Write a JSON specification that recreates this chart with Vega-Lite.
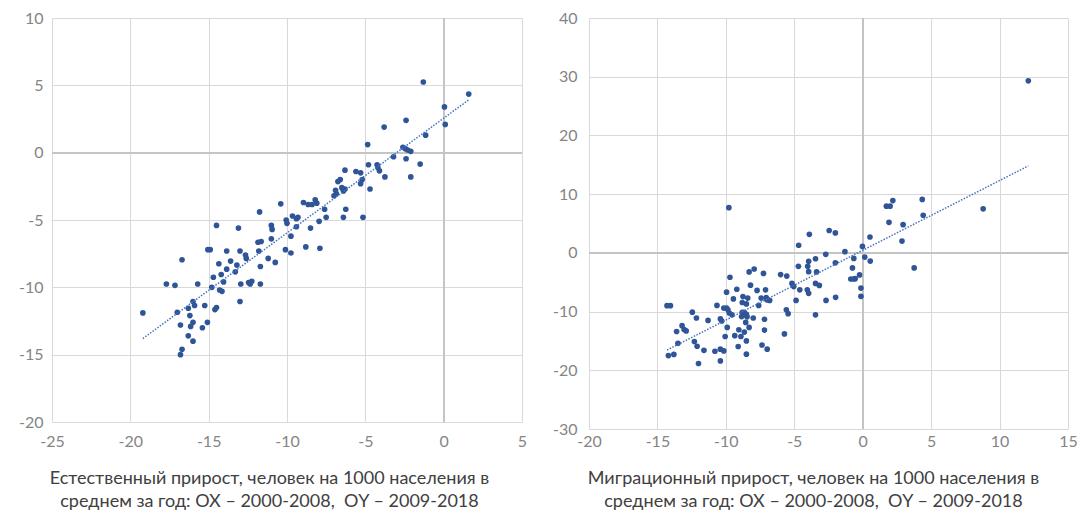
{
  "$schema": "https://vega.github.io/schema/vega-lite/v6.json",
  "padding": {"left": 18, "top": 10, "right": 0, "bottom": 0},
  "background": "white",
  "config": {
    "font": "Lato",
    "view": {"stroke": null},
    "axis": {
      "grid": true,
      "gridColor": "#d9d9d9",
      "gridWidth": 1,
      "domain": false,
      "ticks": false,
      "labelFlush": false,
      "labelOverlap": false,
      "labelExpr": "'' + datum.value",
      "labelFont": "Lato",
      "labelFontSize": 16,
      "labelColor": "#858585",
      "titleFont": "Lato",
      "titleFontSize": 18,
      "titleFontWeight": "normal",
      "titleColor": "#404040",
      "titleLineHeight": 23
    }
  },
  "spacing": 25,
  "datasets": {
    "natural": [
      {"x": -19.2, "y": -11.9}, {"x": -17.7, "y": -9.75}, {"x": -17.15, "y": -9.85}, {"x": -16.7, "y": -7.95},
      {"x": -17.0, "y": -11.85}, {"x": -16.8, "y": -12.8}, {"x": -16.7, "y": -14.6}, {"x": -16.8, "y": -15.0},
      {"x": -16.3, "y": -11.55}, {"x": -16.2, "y": -12.1}, {"x": -16.15, "y": -12.9}, {"x": -16.0, "y": -12.6},
      {"x": -16.3, "y": -13.6}, {"x": -16.0, "y": -14.0}, {"x": -16.0, "y": -11.05}, {"x": -15.9, "y": -11.35},
      {"x": -15.7, "y": -9.75}, {"x": -15.4, "y": -13.0}, {"x": -15.25, "y": -11.35}, {"x": -15.08, "y": -12.6},
      {"x": -14.8, "y": -10.0}, {"x": -14.7, "y": -9.25}, {"x": -14.5, "y": -5.4}, {"x": -14.6, "y": -11.65},
      {"x": -14.5, "y": -11.5}, {"x": -14.3, "y": -10.2}, {"x": -14.15, "y": -10.3}, {"x": -14.35, "y": -8.25},
      {"x": -14.2, "y": -9.05}, {"x": -14.05, "y": -9.6}, {"x": -13.85, "y": -8.65}, {"x": -13.85, "y": -7.3},
      {"x": -13.6, "y": -8.05}, {"x": -13.3, "y": -8.85}, {"x": -13.2, "y": -8.35}, {"x": -13.1, "y": -5.6},
      {"x": -13.0, "y": -11.05}, {"x": -12.95, "y": -9.75}, {"x": -13.0, "y": -7.3}, {"x": -12.65, "y": -7.6},
      {"x": -12.6, "y": -7.85}, {"x": -12.45, "y": -9.65}, {"x": -12.25, "y": -9.55}, {"x": -12.35, "y": -9.75},
      {"x": -15.05, "y": -7.2}, {"x": -14.9, "y": -7.2}, {"x": -11.75, "y": -4.4}, {"x": -11.85, "y": -6.65},
      {"x": -11.65, "y": -6.6}, {"x": -11.8, "y": -7.3}, {"x": -11.7, "y": -8.45}, {"x": -11.7, "y": -9.75},
      {"x": -11.2, "y": -7.85}, {"x": -10.75, "y": -8.15}, {"x": -11.0, "y": -5.4}, {"x": -10.95, "y": -5.7},
      {"x": -11.0, "y": -6.4}, {"x": -10.4, "y": -3.8}, {"x": -10.1, "y": -7.2}, {"x": -9.75, "y": -7.45},
      {"x": -10.05, "y": -5.0}, {"x": -10.0, "y": -5.25}, {"x": -9.75, "y": -6.2}, {"x": -9.65, "y": -4.7},
      {"x": -9.3, "y": -4.8}, {"x": -9.4, "y": -4.9}, {"x": -9.4, "y": -5.5}, {"x": -8.8, "y": -7.0},
      {"x": -7.9, "y": -7.1}, {"x": -8.5, "y": -5.6}, {"x": -8.95, "y": -3.7}, {"x": -8.65, "y": -3.85},
      {"x": -8.4, "y": -3.85}, {"x": -8.1, "y": -3.75}, {"x": -8.2, "y": -3.5}, {"x": -7.95, "y": -5.1},
      {"x": -7.6, "y": -4.2}, {"x": -7.5, "y": -4.8}, {"x": -7.0, "y": -3.2}, {"x": -6.85, "y": -3.05},
      {"x": -6.9, "y": -2.8}, {"x": -6.5, "y": -2.6}, {"x": -6.4, "y": -2.85}, {"x": -6.3, "y": -2.7},
      {"x": -6.75, "y": -2.15}, {"x": -6.6, "y": -2.0}, {"x": -6.25, "y": -4.2}, {"x": -6.4, "y": -4.8},
      {"x": -5.15, "y": -4.8}, {"x": -6.3, "y": -1.3}, {"x": -5.6, "y": -1.4}, {"x": -5.3, "y": -1.5},
      {"x": -5.2, "y": -2.0}, {"x": -5.3, "y": -2.3}, {"x": -4.7, "y": -2.7}, {"x": -4.8, "y": -0.9},
      {"x": -4.25, "y": -0.9}, {"x": -4.2, "y": -1.1}, {"x": -4.1, "y": -1.35}, {"x": -4.85, "y": 0.6},
      {"x": -3.75, "y": -1.8}, {"x": -3.8, "y": 1.9}, {"x": -3.2, "y": -0.3}, {"x": -2.6, "y": 0.4},
      {"x": -2.45, "y": 0.3}, {"x": -2.3, "y": 0.2}, {"x": -2.1, "y": 0.1}, {"x": -2.4, "y": -0.45},
      {"x": -1.5, "y": -0.85}, {"x": -2.1, "y": -1.8}, {"x": -2.4, "y": 2.4}, {"x": -1.3, "y": 5.25},
      {"x": -1.15, "y": 1.3}, {"x": 0.05, "y": 3.4}, {"x": 0.1, "y": 2.1}, {"x": 1.6, "y": 4.35}
    ],
    "migration": [
      {"x": -14.3, "y": -9.0}, {"x": -14.05, "y": -9.0}, {"x": -14.2, "y": -17.5}, {"x": -13.8, "y": -17.3},
      {"x": -13.6, "y": -13.4}, {"x": -13.2, "y": -12.4}, {"x": -13.05, "y": -13.05}, {"x": -12.9, "y": -13.3},
      {"x": -13.5, "y": -15.4}, {"x": -12.45, "y": -10.1}, {"x": -12.15, "y": -11.1}, {"x": -12.3, "y": -15.1},
      {"x": -12.1, "y": -15.9}, {"x": -11.6, "y": -16.6}, {"x": -12.0, "y": -18.85}, {"x": -11.3, "y": -11.5},
      {"x": -10.8, "y": -16.75}, {"x": -10.65, "y": -8.95}, {"x": -10.4, "y": -16.4}, {"x": -10.4, "y": -18.4},
      {"x": -10.15, "y": -16.7}, {"x": -10.4, "y": -11.25}, {"x": -10.3, "y": -11.6}, {"x": -10.15, "y": -9.4},
      {"x": -9.95, "y": -9.4}, {"x": -9.85, "y": -9.7}, {"x": -9.95, "y": -6.7}, {"x": -9.7, "y": -4.15},
      {"x": -9.75, "y": -10.25}, {"x": -9.55, "y": -10.55}, {"x": -10.05, "y": -14.25}, {"x": -9.9, "y": -12.7},
      {"x": -9.45, "y": -7.85}, {"x": -9.2, "y": -6.2}, {"x": -9.05, "y": -13.1}, {"x": -8.8, "y": -8.45},
      {"x": -8.8, "y": -10.15}, {"x": -8.65, "y": -10.15}, {"x": -8.85, "y": -10.85}, {"x": -8.72, "y": -10.6},
      {"x": -9.35, "y": -14.1}, {"x": -9.1, "y": -15.95}, {"x": -8.9, "y": -14.25}, {"x": -8.65, "y": -13.5},
      {"x": -8.55, "y": -11.85}, {"x": -8.5, "y": -10.45}, {"x": -8.45, "y": -10.9}, {"x": -8.4, "y": -7.7},
      {"x": -8.5, "y": -8.7}, {"x": -8.5, "y": -15.0}, {"x": -8.3, "y": -12.7}, {"x": -8.5, "y": -17.25},
      {"x": -8.75, "y": -7.45}, {"x": -8.3, "y": -3.25}, {"x": -7.93, "y": -2.75}, {"x": -8.2, "y": -5.5},
      {"x": -7.72, "y": -6.4}, {"x": -8.0, "y": -11.1}, {"x": -7.6, "y": -8.95}, {"x": -7.42, "y": -7.7},
      {"x": -7.05, "y": -7.6}, {"x": -7.25, "y": -3.5}, {"x": -7.0, "y": -8.0}, {"x": -6.8, "y": -8.1},
      {"x": -7.18, "y": -11.3}, {"x": -7.18, "y": -13.15}, {"x": -7.36, "y": -15.7}, {"x": -6.98, "y": -16.4},
      {"x": -7.1, "y": -6.3}, {"x": -6.0, "y": -3.7}, {"x": -5.55, "y": -3.95}, {"x": -5.58, "y": -9.7},
      {"x": -5.45, "y": -10.35}, {"x": -5.72, "y": -13.8}, {"x": -5.17, "y": -5.2}, {"x": -5.04, "y": -5.75},
      {"x": -4.87, "y": -8.1}, {"x": -4.68, "y": 1.3}, {"x": -4.7, "y": -2.3}, {"x": -4.6, "y": -6.3},
      {"x": -3.95, "y": -1.43}, {"x": -4.02, "y": -2.3}, {"x": -3.95, "y": -3.2}, {"x": -3.37, "y": -3.25},
      {"x": -3.45, "y": -1.0}, {"x": -3.9, "y": 3.15}, {"x": -2.45, "y": 3.8}, {"x": -2.0, "y": 3.4},
      {"x": -2.7, "y": -0.25}, {"x": -2.0, "y": -1.7}, {"x": -1.3, "y": 0.2}, {"x": -0.65, "y": -0.95},
      {"x": 0.15, "y": -0.72}, {"x": 0.55, "y": -1.4}, {"x": -0.75, "y": -2.57}, {"x": -0.23, "y": -3.75},
      {"x": -0.87, "y": -4.45}, {"x": -0.65, "y": -4.45}, {"x": -0.55, "y": -4.4}, {"x": -0.13, "y": -6.0},
      {"x": -0.13, "y": -7.4}, {"x": -2.68, "y": -8.1}, {"x": -1.98, "y": -7.58}, {"x": -3.45, "y": -5.2},
      {"x": -3.17, "y": -5.55}, {"x": -4.05, "y": -6.3}, {"x": -3.95, "y": -6.9}, {"x": -3.45, "y": -10.55},
      {"x": -0.02, "y": 1.1}, {"x": 0.53, "y": 2.7}, {"x": -9.78, "y": 7.7}, {"x": 1.73, "y": 7.95},
      {"x": 2.0, "y": 7.95}, {"x": 2.2, "y": 8.9}, {"x": 1.92, "y": 5.2}, {"x": 2.95, "y": 4.8},
      {"x": 2.87, "y": 2.0}, {"x": 4.35, "y": 9.1}, {"x": 4.42, "y": 6.4}, {"x": 3.76, "y": -2.56},
      {"x": 8.8, "y": 7.5}, {"x": 12.1, "y": 29.3}
    ]
  },
  "hconcat": [
    {
      "width": 470,
      "height": 404,
      "data": {"name": "natural"},
      "layer": [
        {
          "mark": {"type": "rule", "color": "#c4c4c4", "strokeWidth": 1},
          "encoding": {"y": {"datum": 0, "type": "quantitative"}}
        },
        {
          "mark": {"type": "rule", "color": "#c4c4c4", "strokeWidth": 1},
          "encoding": {"x": {"datum": 0, "type": "quantitative"}}
        },
        {
          "mark": {"type": "circle", "size": 32, "opacity": 1, "color": "#2F5597"},
          "encoding": {
            "x": {"field": "x", "type": "quantitative", "scale": {"domain": [-25, 5], "nice": false, "zero": false},
              "axis": {"values": [-25, -20, -15, -10, -5, 0, 5], "labelPadding": 11, "titlePadding": 20, "titleX": 217, "titleAlign": "center",
                "title": ["Естественный прирост, человек на 1000 населения в", "среднем за год: ОХ – 2000-2008,\u00a0 ОY – 2009-2018"]}},
            "y": {"field": "y", "type": "quantitative", "scale": {"domain": [-20, 10], "nice": false, "zero": false},
              "axis": {"values": [-20, -15, -10, -5, 0, 5, 10], "labelPadding": 9, "title": null}}
          }
        },
        {
          "transform": [{"regression": "y", "on": "x"}],
          "mark": {"type": "line", "color": "#4472C4", "strokeWidth": 1.5, "strokeDash": [1.5, 1.5]},
          "encoding": {
            "x": {"field": "x", "type": "quantitative"},
            "y": {"field": "y", "type": "quantitative"}
          }
        }
      ]
    },
    {
      "width": 479,
      "height": 411,
      "data": {"name": "migration"},
      "layer": [
        {
          "mark": {"type": "rule", "color": "#c4c4c4", "strokeWidth": 1},
          "encoding": {"y": {"datum": 0, "type": "quantitative"}}
        },
        {
          "mark": {"type": "rule", "color": "#c4c4c4", "strokeWidth": 1},
          "encoding": {"x": {"datum": 0, "type": "quantitative"}}
        },
        {
          "mark": {"type": "circle", "size": 32, "opacity": 1, "color": "#2F5597"},
          "encoding": {
            "x": {"field": "x", "type": "quantitative", "scale": {"domain": [-20, 15], "nice": false, "zero": false},
              "axis": {"values": [-20, -15, -10, -5, 0, 5, 10, 15], "labelPadding": 4, "titlePadding": 20, "titleX": 224, "titleAlign": "center",
                "title": ["Миграционный прирост, человек на 1000 населения в", "среднем за год: ОХ – 2000-2008,\u00a0 ОY – 2009-2018"]}},
            "y": {"field": "y", "type": "quantitative", "scale": {"domain": [-30, 40], "nice": false, "zero": false},
              "axis": {"values": [-30, -20, -10, 0, 10, 20, 30, 40], "labelPadding": 12, "title": null}}
          }
        },
        {
          "transform": [{"regression": "y", "on": "x"}],
          "mark": {"type": "line", "color": "#4472C4", "strokeWidth": 1.5, "strokeDash": [1.5, 1.5]},
          "encoding": {
            "x": {"field": "x", "type": "quantitative"},
            "y": {"field": "y", "type": "quantitative"}
          }
        }
      ]
    }
  ]
}
